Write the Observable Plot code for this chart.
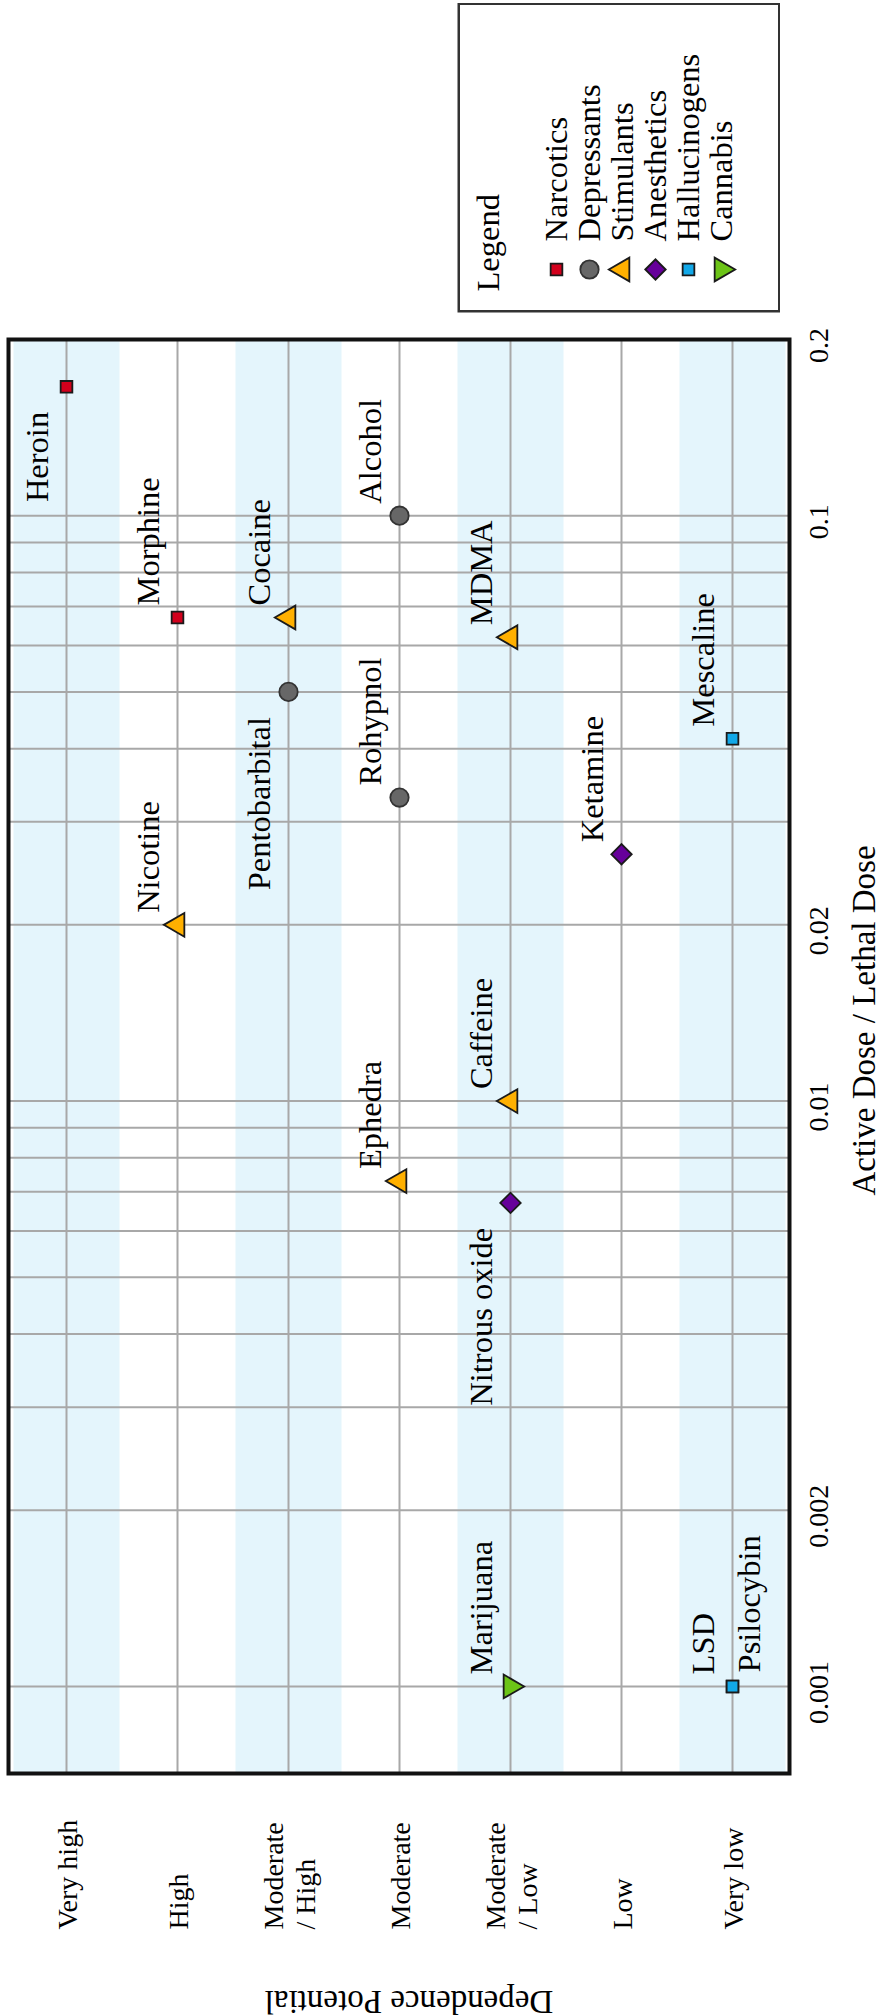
<!DOCTYPE html>
<html>
<head>
<meta charset="utf-8">
<script src="https://cdn.jsdelivr.net/npm/d3@7"></script>
<script src="https://cdn.jsdelivr.net/npm/@observablehq/plot@0.6"></script>
<style>
  html, body { margin: 0; padding: 0; background: #fff; overflow: hidden; }
  /* The chart is laid out landscape and turned a quarter turn counter-clockwise. */
  #page {
    position: absolute; left: 0; top: 0;
    width: 2016px; height: 878px;
    transform-origin: 0 0;
    transform: translate(0, 2016px) rotate(-90deg);
    font-family: "Liberation Serif", "DejaVu Serif", serif;
  }
  #chart { position: absolute; left: 0; top: 0; }
  #legend { position: absolute; left: 1703px; top: 457px; }
</style>
</head>
<body>
<div id="page"><div id="chart"></div><div id="legend"></div></div>
<script>
// Dependence potential levels, from most to least dependence-forming
const levels = ["Very high", "High", "Moderate / High", "Moderate", "Moderate / Low", "Low", "Very low"];

// Drug classes shown in the legend
const classes = ["Narcotics", "Depressants", "Stimulants", "Anesthetics", "Hallucinogens", "Cannabis"];

// Substances, their class, dependence level and active-dose / lethal-dose ratio
const drugs = ["Heroin", "Morphine", "Cocaine", "Alcohol", "Pentobarbital", "MDMA", "Rohypnol", "Mescaline",
               "Ketamine", "Nicotine", "Caffeine", "Ephedra", "Nitrous oxide", "Marijuana", "LSD", "Psilocybin"];
const drugClass = ["Narcotics", "Narcotics", "Stimulants", "Depressants", "Depressants", "Stimulants", "Depressants", "Hallucinogens",
                   "Anesthetics", "Stimulants", "Stimulants", "Stimulants", "Anesthetics", "Cannabis", "Hallucinogens", "Hallucinogens"];
const dependence = ["Very high", "High", "Moderate / High", "Moderate", "Moderate / High", "Moderate / Low", "Moderate", "Very low",
                    "Low", "High", "Moderate / Low", "Moderate", "Moderate / Low", "Moderate / Low", "Very low", "Very low"];
const doseRatio = [0.166, 0.067, 0.067, 0.1, 0.05, 0.062, 0.033, 0.0416,
                   0.0264, 0.02, 0.01, 0.0073, 0.0067, 0.001, 0.001, 0.001];

// Labelled ticks of the dose axis
const doseTicks = [0.001, 0.002, 0.01, 0.02, 0.1, 0.2];

const table = drugs.map((name, i) => ({name, cls: drugClass[i], level: dependence[i], ratio: doseRatio[i]}));

// Grid lines at every 1..9 × 10^k between 0.001 and 0.1
const gridTicks = d3.scaleLog().domain([0.001, 0.1]).ticks();

// Downward-pointing triangle for cannabis
const triangleDown = {
  draw(context, size) {
    const y = Math.sqrt(size / (3 * Math.sqrt(3)));
    context.moveTo(0, 2 * y);
    context.lineTo(Math.sqrt(3) * y, -y);
    context.lineTo(-Math.sqrt(3) * y, -y);
    context.closePath();
  }
};

const classStyle = {
  Narcotics:     {symbol: "square",   fill: "#d2001c", stroke: "#1a1a1a", r: 6.6},
  Depressants:   {symbol: "circle",   fill: "#676767", stroke: "#333333", r: 9.2},
  Stimulants:    {symbol: "triangle", fill: "#ffb000", stroke: "#1a1a1a", r: 8.8},
  Anesthetics:   {symbol: "diamond2", fill: "#66009a", stroke: "#1a1a1a", r: 9.2},
  Hallucinogens: {symbol: "square",   fill: "#12a8e8", stroke: "#1a1a1a", r: 6.6},
  Cannabis:      {symbol: triangleDown, fill: "#6cc417", stroke: "#1a1a1a", r: 8.8}
};

const serif = '"Liberation Serif", "DejaVu Serif", serif';
const gridColor = "#a8a8a8";
const bandColor = "#e4f5fc";

const dotsFor = (rows, extra = {}) => classes.map(c => {
  const s = classStyle[c];
  return Plot.dot(rows.filter(d => (d.cls ?? d) === c), {
    symbol: s.symbol, r: s.r, fill: s.fill, stroke: s.stroke, strokeWidth: 1.8, ...extra
  });
});

// Labels sit above-right of their marker, a few are moved aside to avoid collisions
const labelLeft = ["Heroin", "Pentobarbital", "Nitrous oxide"];
const labelBelow = ["Psilocybin"];
const labelOpts = {x: "ratio", y: "level", text: "name", lineAnchor: "bottom", fontSize: 32.5, fill: "#000"};

const chart = Plot.plot({
  width: 2016,
  height: 878,
  marginLeft: 242,
  marginRight: 340,
  marginTop: 8,
  marginBottom: 89,
  style: {fontFamily: serif, fontSize: "28px", background: "transparent", overflow: "visible"},
  x: {type: "log", domain: [0.00071, 0.2]},
  y: {type: "point", domain: levels, padding: 0.5},
  marks: [
    // alternating light-blue bands behind every other level
    Plot.ruleY(levels.filter((d, i) => i % 2 === 0), {stroke: bandColor, strokeWidth: 106}),
    Plot.ruleX(gridTicks, {stroke: gridColor, strokeWidth: 2}),
    Plot.ruleY(levels, {stroke: gridColor, strokeWidth: 2}),
    Plot.axisX({ticks: doseTicks, tickFormat: d => String(d), tickSize: 0, tickPadding: 19, dx: -6,
                fontSize: 28, label: null}),
    Plot.axisY({tickSize: 0, tickPadding: 156, textAnchor: "start", lineHeight: 1.15, fontSize: 28,
                tickFormat: d => d.replace(" / ", "\n/ "), label: null}),
    ...dotsFor(table, {x: "ratio", y: "level"}),
    Plot.text(table.filter(d => !labelLeft.includes(d.name) && !labelBelow.includes(d.name)),
              {...labelOpts, textAnchor: "start", dx: 12, dy: -19}),
    Plot.text(table.filter(d => labelLeft.includes(d.name)),
              {...labelOpts, textAnchor: "end", dx: -25, dy: -19}),
    Plot.text(table.filter(d => labelBelow.includes(d.name)),
              {...labelOpts, textAnchor: "start", dx: 14, dy: 27}),
    Plot.text(["Active Dose / Lethal Dose"], {text: d => d, frameAnchor: "bottom", dx: 36, dy: 85,
              textAnchor: "middle", lineAnchor: "bottom", fontSize: 33}),
    Plot.text(["Dependence Potential"], {text: d => d, frameAnchor: "left", rotate: -90, dx: -217, dy: 10,
              textAnchor: "middle", lineAnchor: "bottom", fontSize: 33}),
    Plot.frame({stroke: "#111", strokeWidth: 4})
  ]
});
document.getElementById("chart").append(chart);

const legend = Plot.plot({
  width: 310,
  height: 323,
  margin: 0,
  style: {fontFamily: serif, fontSize: "32.5px", background: "#fff"},
  y: {type: "point", domain: classes, range: [82, 280], axis: null},
  marks: [
    Plot.frame({stroke: "#333", strokeWidth: 2.5, inset: 1.25}),
    Plot.text(["Legend"], {text: d => d, frameAnchor: "top-left", dx: 21, dy: 41,
              textAnchor: "start", lineAnchor: "bottom", fontSize: 32.5}),
    ...dotsFor(classes, {y: d => d, frameAnchor: "left", dx: 43}),
    Plot.text(classes, {y: d => d, text: d => d, frameAnchor: "left", dx: 71,
              textAnchor: "start", lineAnchor: "middle", fontSize: 32.5})
  ]
});
document.getElementById("legend").append(legend);
</script>
</body>
</html>
